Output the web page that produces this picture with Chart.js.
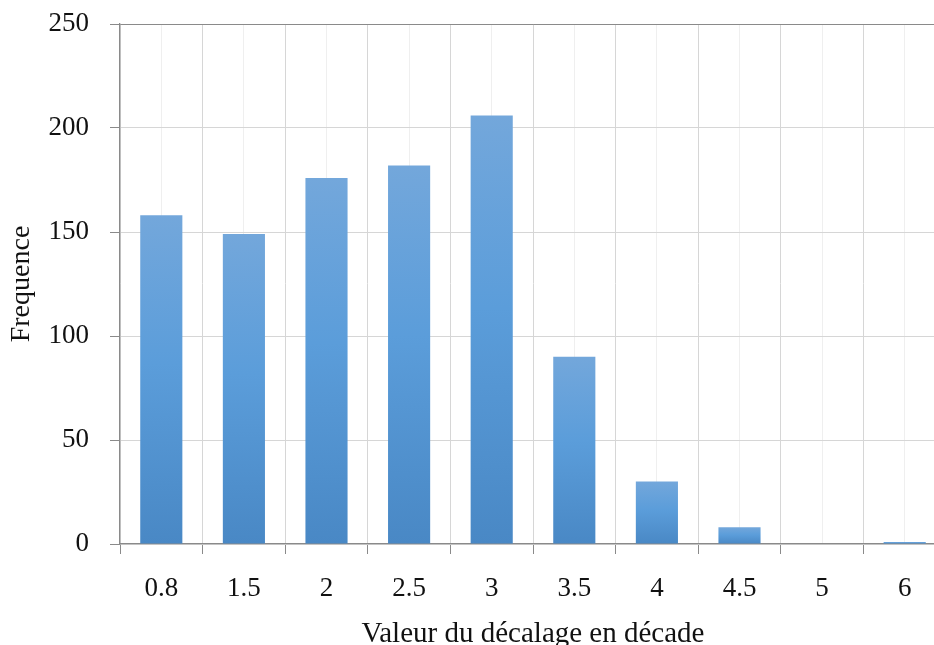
<!DOCTYPE html>
<html>
<head>
<meta charset="utf-8">
<script src="https://cdn.jsdelivr.net/npm/chart.js@4/dist/chart.umd.min.js"></script>
<style>
  html, body { margin: 0; padding: 0; overflow: hidden; background: #fff; }
  #wrap { position: absolute; left: 0; top: 0; width: 946px; height: 660px; }
</style>
</head>
<body>
<div id="wrap"><canvas id="c" width="946" height="660"></canvas></div>
<script>
const categories = ["0.8", "1.5", "2", "2.5", "3", "3.5", "4", "4.5", "5", "6"];
const frequencies = [158, 149, 176, 182, 206, 90, 30, 8, 0, 1];
const yTicks = [0, 50, 100, 150, 200, 250];
const xTitle = "Valeur du décalage en décade";
const yTitle = "Frequence";

const FONT = "'Liberation Serif', 'Times New Roman', serif";
const CANVAS_H = 660;
const PLOT_BOTTOM = 544;
const PLOT_LEFT = 120;

function barGradient(ctx) {
  const chart = ctx.chart;
  if (!chart.chartArea || ctx.type !== 'data') return '#5b9dda';
  const y = chart.scales.y;
  const v = ctx.dataset.data[ctx.dataIndex];
  const top = y.getPixelForValue(v);
  const bottom = y.getPixelForValue(0);
  if (!(bottom - top > 0.5)) return '#5b9dda';
  const g = chart.ctx.createLinearGradient(0, top, 0, bottom);
  g.addColorStop(0, '#73a7db');
  g.addColorStop(0.45, '#5b9dda');
  g.addColorStop(1, '#4988c5');
  return g;
}

new Chart(document.getElementById('c'), {
  type: 'bar',
  data: {
    labels: categories,
    datasets: [{
      data: frequencies,
      backgroundColor: barGradient,
      borderWidth: 0,
      barPercentage: 1,
      categoryPercentage: 0.51
    }]
  },
  options: {
    responsive: false,
    animation: false,
    devicePixelRatio: 1,
    layout: { padding: { top: 24, left: 0, right: 0, bottom: 0 } },
    plugins: { legend: { display: false }, tooltip: { enabled: false } },
    scales: {
      x: {
        type: 'category',
        position: 'bottom',
        offset: true,
        grid: {
          display: true,
          offset: true,
          color: '#d6d6d6',
          lineWidth: 1,
          tickLength: 10,
          tickColor: '#8a8a8a',
          drawTicks: true
        },
        border: { display: true, color: '#8a8a8a', width: 1.3 },
        ticks: {
          color: '#111',
          padding: 19,
          maxRotation: 0,
          font: { family: FONT, size: 27 }
        },
        title: {
          display: true,
          text: xTitle,
          color: '#111',
          font: { family: FONT, size: 29 },
          padding: { top: 0, bottom: 8 }
        },
        afterFit(scale) { scale.height = CANVAS_H - PLOT_BOTTOM; scale.paddingLeft = 0; scale.paddingRight = 0; }
      },
      xc: {
        type: 'category',
        position: 'bottom',
        offset: true,
        display: true,
        grid: {
          display: true,
          offset: false,
          color: '#efefef',
          lineWidth: 1,
          drawTicks: false
        },
        border: { display: false },
        ticks: { display: false },
        afterFit(scale) { scale.height = 0; }
      },
      y: {
        min: 0,
        max: 250,
        position: 'left',
        afterBuildTicks(scale) { scale.ticks = yTicks.map(v => ({ value: v })); },
        grid: {
          color: (c) => (c.tick && c.tick.value === 250) ? '#8a8a8a' : '#d6d6d6',
          lineWidth: 1,
          tickLength: 10,
          tickColor: '#8a8a8a'
        },
        border: { display: true, color: '#8a8a8a', width: 1.3 },
        ticks: {
          color: '#111',
          padding: 21,
          font: { family: FONT, size: 27 }
        },
        title: {
          display: true,
          text: yTitle,
          color: '#111',
          font: { family: FONT, size: 28 },
          padding: { top: 5, bottom: 0 }
        },
        afterFit(scale) { scale.width = PLOT_LEFT; scale.paddingTop = 0; scale.paddingBottom = 0; }
      }
    }
  }
});
</script>
</body>
</html>
